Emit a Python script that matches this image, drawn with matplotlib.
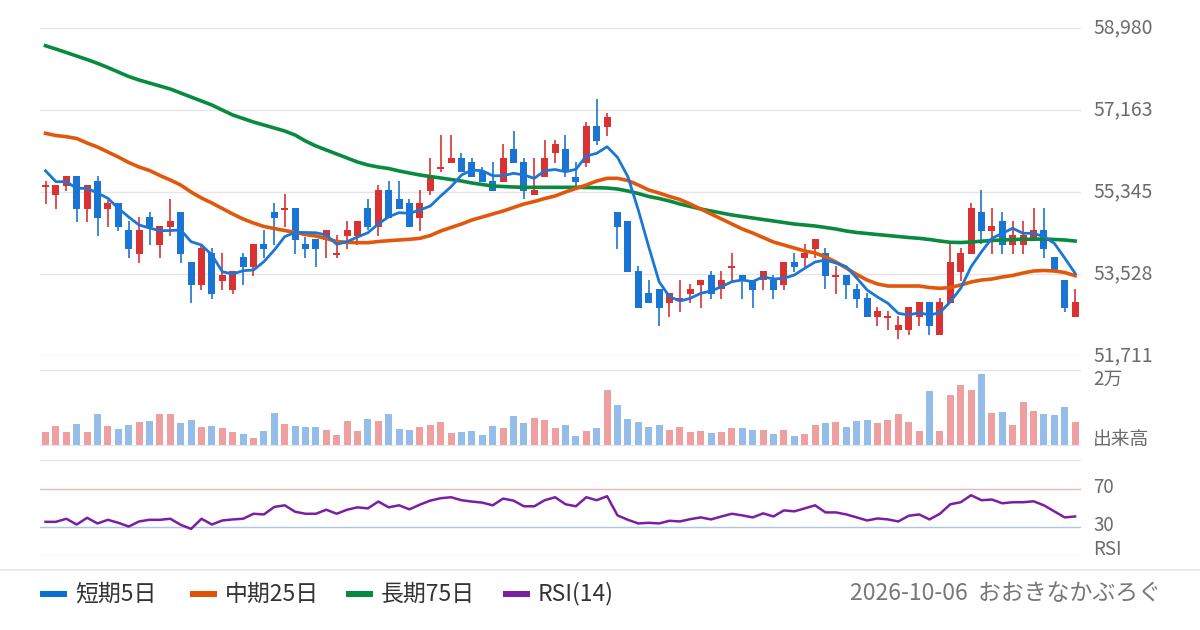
import matplotlib
matplotlib.use("Agg")
import matplotlib.pyplot as plt
import numpy as np

plt.rcParams['font.family'] = ['Noto Sans CJK JP', 'DejaVu Sans']

# 日足データ (100本)
opens = [55463, 55279, 55485, 55700, 54975, 55589, 54975, 55102, 54503, 53978,
         54791, 54177, 54576, 54902, 53794, 53291, 53994, 53380, 53180, 53905,
         53690, 54193, 54902, 54953, 54991, 54193, 54304, 54282, 53956, 54370,
         54370, 54997, 54576, 55390, 55190, 55095, 54776, 55374, 55855, 55995,
         56092, 56010, 55795, 55589, 55574, 56292, 56010, 55279, 55684, 56203,
         56292, 55684, 55995, 56808, 56792, 54902, 54703, 53595, 53114, 53196,
         52892, 52936, 53092, 53291, 53506, 53196, 53661, 53506, 53395, 53395,
         53395, 53291, 53794, 53883, 54082, 53994, 53468, 53506, 53196, 52996,
         52582, 52560, 52287, 52287, 52582, 52908, 52183, 52892, 53579, 53978,
         54895, 54481, 54703, 54177, 54177, 54297, 54503, 53898, 53395, 52582]
highs = [55589, 55500, 55700, 55700, 55500, 55700, 55168, 55102, 54703, 54791,
         54902, 54592, 55190, 54902, 53794, 54177, 54104, 53994, 53595, 53994,
         54193, 54503, 55102, 55301, 54991, 54355, 54304, 54503, 54392, 54703,
         54703, 55190, 55500, 55589, 55589, 55190, 55390, 56092, 56608, 56608,
         56203, 56092, 55893, 56010, 56402, 56697, 56092, 56092, 56498, 56498,
         56608, 56010, 56903, 57406, 57103, 54902, 54703, 53705, 53395, 53196,
         53114, 53395, 53307, 53395, 53595, 53595, 53994, 53506, 53395, 53595,
         53506, 53794, 53994, 54193, 54304, 54098, 53705, 53506, 53300, 53100,
         52797, 52708, 52597, 52797, 52908, 52908, 52996, 54208, 54098, 55108,
         55390, 54991, 54902, 54703, 54703, 54991, 54991, 53898, 53395, 53189]
lows = [55086, 54969, 55374, 54687, 54687, 54377, 54576, 54488, 53889, 53779,
        54177, 53889, 54377, 53779, 52892, 53180, 52981, 53180, 53092, 53291,
        53490, 53889, 54177, 54576, 53978, 53889, 53690, 53889, 53889, 54082,
        54177, 54503, 54377, 54776, 54975, 54576, 54481, 55279, 55795, 55995,
        55795, 55684, 55574, 55374, 55574, 55995, 55184, 55279, 55684, 55995,
        55684, 55478, 55893, 56387, 56593, 54082, 53572, 52781, 52892, 52382,
        52582, 52693, 52892, 52781, 52974, 52974, 53358, 52974, 52781, 53174,
        52974, 53174, 53572, 53683, 53876, 53189, 53085, 52981, 52781, 52582,
        52382, 52287, 52094, 52183, 52382, 52183, 52183, 52892, 53380, 53978,
        54193, 53978, 53978, 53978, 53978, 54297, 53876, 53601, 52693, 52582]
closes = [55507, 55500, 55700, 54975, 55500, 54776, 55102, 54576, 54089, 54503,
          54576, 54592, 54703, 53978, 53291, 54104, 53092, 53506, 53595, 53690,
          54193, 54089, 54776, 54991, 54288, 54082, 54082, 54503, 54000, 54503,
          54703, 54576, 55390, 54776, 54975, 54576, 55095, 55684, 55893, 56092,
          55795, 55684, 55574, 55374, 56092, 55995, 55374, 55390, 56092, 56402,
          55795, 55574, 56808, 56482, 57001, 54576, 53572, 52781, 52892, 52781,
          53114, 52990, 53196, 53395, 53092, 53395, 53705, 53373, 53174, 53595,
          53174, 53794, 53683, 53994, 54304, 53490, 53506, 53291, 52981, 52582,
          52708, 52597, 52398, 52797, 52908, 52382, 52908, 53794, 53994, 54991,
          54481, 54592, 54177, 54392, 54392, 54503, 54082, 53601, 52781, 52908]

# 移動平均 (短期5日・中期25日・長期75日)
ma5 = [55817, 55574, 55574, 55427, 55427, 55323, 55206, 54984, 54791, 54614,
       54548, 54488, 54492, 54503, 54244, 54171, 53949, 53579, 53528, 53601,
       53617, 53801, 54060, 54355, 54452, 54448, 54443, 54392, 54186, 54244,
       54348, 54443, 54636, 54798, 54887, 54873, 54946, 55035, 55257, 55463,
       55722, 55833, 55817, 55706, 55706, 55760, 55722, 55649, 55817, 55844,
       55795, 55848, 56143, 56203, 56349, 56114, 55684, 54946, 54133, 53358,
       53025, 52930, 52990, 53100, 53151, 53247, 53358, 53395, 53358, 53468,
       53417, 53433, 53506, 53654, 53794, 53838, 53772, 53690, 53440, 53174,
       53018, 52879, 52657, 52620, 52671, 52620, 52671, 52914, 53211, 53690,
       54022, 54319, 54430, 54541, 54430, 54430, 54355, 54209, 53883, 53544]
ma25 = [56646, 56597, 56571, 56531, 56431, 56342, 56232, 56121, 55999, 55899,
        55822, 55711, 55611, 55500, 55345, 55212, 55102, 54980, 54858, 54747,
        54658, 54581, 54536, 54492, 54452, 54403, 54370, 54315, 54248, 54231,
        54222, 54222, 54248, 54266, 54282, 54297, 54319, 54381, 54481, 54559,
        54636, 54725, 54791, 54858, 54924, 55002, 55079, 55135, 55201, 55257,
        55345, 55423, 55500, 55589, 55649, 55649, 55600, 55500, 55390, 55323,
        55246, 55179, 55079, 54969, 54858, 54747, 54636, 54525, 54437, 54337,
        54237, 54171, 54104, 54038, 53994, 53905, 53794, 53661, 53517, 53395,
        53307, 53262, 53262, 53262, 53262, 53229, 53211, 53229, 53284, 53351,
        53395, 53417, 53462, 53495, 53550, 53595, 53606, 53595, 53561, 53491]
ma75 = [58587, 58514, 58437, 58359, 58281, 58197, 58104, 58004, 57905, 57827,
        57761, 57694, 57628, 57539, 57450, 57362, 57273, 57162, 57052, 56974,
        56896, 56830, 56764, 56697, 56608, 56475, 56365, 56276, 56187, 56099,
        56010, 55944, 55899, 55866, 55811, 55766, 55722, 55689, 55656, 55622,
        55589, 55545, 55511, 55478, 55467, 55456, 55449, 55449, 55449, 55449,
        55449, 55449, 55445, 55440, 55434, 55412, 55367, 55312, 55246, 55201,
        55146, 55079, 55024, 54969, 54924, 54880, 54836, 54802, 54769, 54736,
        54703, 54669, 54636, 54614, 54592, 54559, 54525, 54481, 54448, 54426,
        54403, 54381, 54359, 54337, 54319, 54293, 54259, 54231, 54226, 54237,
        54255, 54271, 54282, 54293, 54297, 54299, 54304, 54293, 54282, 54259]

# 出来高
volume = [3788, 5286, 3788, 5815, 3788, 8458, 5286, 4493, 5550, 6343,
          6608, 8458, 8458, 6079, 6872, 5022, 5286, 4757, 3788, 3172,
          2114, 3965, 8722, 5815, 5286, 5022, 5022, 4229, 2907, 6608,
          3965, 7136, 6608, 8458, 4493, 4229, 5022, 5550, 6343, 3436,
          3700, 3965, 2907, 5286, 4757, 7929, 6079, 7400, 6872, 4757,
          5550, 2643, 3965, 4757, 14801, 10836, 7136, 6343, 5022, 5550,
          4229, 5022, 3700, 3965, 3436, 3700, 4757, 4757, 4229, 4229,
          3172, 4229, 2643, 3172, 5550, 6079, 6343, 5022, 6608, 6872,
          6079, 6872, 8458, 6343, 3965, 14537, 3965, 13479, 16122, 14801,
          19030, 8722, 8986, 5550, 11629, 9251, 8458, 8193, 10308, 6343]

# RSI(14)
rsi = [35.6, 35.6, 38.8, 32.8, 39.8, 33.9, 37.7, 34.6, 30.7, 36.0,
       37.7, 37.7, 38.8, 32.5, 28.2, 38.8, 32.8, 37.0, 38.1, 38.8,
       44.0, 43.3, 51.1, 52.8, 46.1, 44.0, 44.0, 48.2, 44.0, 48.2,
       50.7, 49.6, 56.7, 50.7, 52.8, 48.6, 53.5, 57.7, 60.2, 61.2,
       58.1, 56.7, 55.6, 52.8, 59.8, 57.7, 51.8, 51.8, 58.1, 61.2,
       53.9, 51.8, 61.2, 58.1, 62.3, 42.3, 37.7, 33.9, 34.6, 33.9,
       36.7, 36.0, 38.4, 40.2, 38.1, 41.2, 44.0, 42.3, 40.2, 44.4,
       41.2, 47.5, 46.5, 49.6, 52.8, 45.4, 45.4, 43.3, 40.2, 37.0,
       39.1, 38.1, 36.0, 41.9, 43.3, 38.1, 44.0, 53.9, 56.0, 63.3,
       58.1, 58.8, 54.9, 56.0, 56.0, 57.0, 52.8, 46.5, 40.2, 41.2]

price_ticks = [51711, 53528, 55345, 57163, 58980]

legend_items = [("短期5日", '#0a6fd1'), ("中期25日", '#e05206'),
                ("長期75日", '#058a3e'), ("RSI(14)", '#7b1fa2')]
footer_text = "2026-10-06  おおきなかぶろぐ"

UP = '#d93232'
DOWN = '#1a74d3'
UP_VOL = '#eea0a0'
DOWN_VOL = '#94bde9'
GRID = '#e3e5ea'
LABEL = '#6b6b6b'

W, H = 1200, 630
fig = plt.figure(figsize=(12, 6.3), dpi=100)


def add_axes(px_left, px_top, px_right, px_bottom):
    return fig.add_axes([px_left / W, 1 - px_bottom / H,
                         (px_right - px_left) / W, (px_bottom - px_top) / H])


ax_p = add_axes(40, 28, 1081, 356)
ax_v = add_axes(40, 370, 1081, 446)
ax_r = add_axes(40, 460, 1081, 556)

n = len(closes)
x = np.arange(n)
xlim = ((40 - 45.5) / 10.4, (1081 - 45.5) / 10.4)
lx = (1093 - 40) / (1081 - 40)

for ax in (ax_p, ax_v, ax_r):
    ax.set_xlim(*xlim)
    ax.axis('off')

# ローソク足
o = np.array(opens)
c = np.array(closes)
up = c >= o
colors = np.where(up, UP, DOWN)
ax_p.vlines(x, lows, highs, colors=colors, linewidth=1.2, zorder=2)
body = np.maximum(np.abs(c - o), 40)
ax_p.bar(x, body, bottom=np.minimum(o, c), width=0.68, color=colors,
         linewidth=0, zorder=3)

ax_p.plot(x, ma75, color='#088a3f', linewidth=2.6, zorder=4)
ax_p.plot(x, ma25, color='#e1580c', linewidth=2.6, zorder=4)
ax_p.plot(x, ma5, color='#1c77d4', linewidth=2.0, zorder=5)

ax_p.set_ylim(price_ticks[0], price_ticks[-1])
for t in price_ticks:
    ax_p.axhline(t, color=GRID, linewidth=1, zorder=0)
    ax_p.text(lx, t, f"{t:,}", transform=ax_p.get_yaxis_transform(),
              ha='left', va='center', fontsize=14, color=LABEL)

# 出来高
ax_v.set_ylim(0, 20000)
ax_v.bar(x, volume, width=0.68, color=np.where(up, UP_VOL, DOWN_VOL),
         linewidth=0, zorder=2)
ax_v.axhline(20000, color=GRID, linewidth=1, zorder=0)
ax_v.axhline(0, color=GRID, linewidth=1.5, zorder=3)
ax_v.text(lx, 0.88, "2万", transform=ax_v.transAxes, ha='left', va='center',
          fontsize=13.5, color=LABEL)
ax_v.text(lx, 0.08, "出来高", transform=ax_v.transAxes, ha='left', va='center',
          fontsize=13.5, color=LABEL)

# RSI
ax_r.set_ylim(0, 100)
ax_r.axhline(100, color=GRID, linewidth=1, zorder=0)
ax_r.axhline(0, color=GRID, linewidth=1, zorder=0)
ax_r.axhline(70, color='#f0b3b3', linewidth=1, zorder=1)
ax_r.axhline(30, color='#a9c6ec', linewidth=1, zorder=1)
ax_r.plot(x, rsi, color='#7b1fa2', linewidth=1.8, zorder=3)
for yy, txt in [(0.71, "70"), (0.32, "30"), (0.07, "RSI")]:
    ax_r.text(lx, yy, txt, transform=ax_r.transAxes, ha='left', va='center',
              fontsize=13.5, color=LABEL)

# 凡例
fig.add_artist(plt.Line2D([0, 1], [1 - 570 / H] * 2, color=GRID, linewidth=1.2))
legend_x = [40, 190, 346, 503]
ly = 1 - 594 / H
for (name, col), px in zip(legend_items, legend_x):
    fig.add_artist(plt.Rectangle((px / W, ly - 3 / H), 27 / W, 6 / H,
                                 color=col, linewidth=0))
    fig.text((px + 35) / W, ly, name, ha='left', va='center', fontsize=16.5,
             color='#333333')
fig.text(1161 / W, ly, footer_text, ha='right', va='center', fontsize=16.5,
         color='#777777')

fig.savefig("out.png", dpi=100, facecolor='white')
